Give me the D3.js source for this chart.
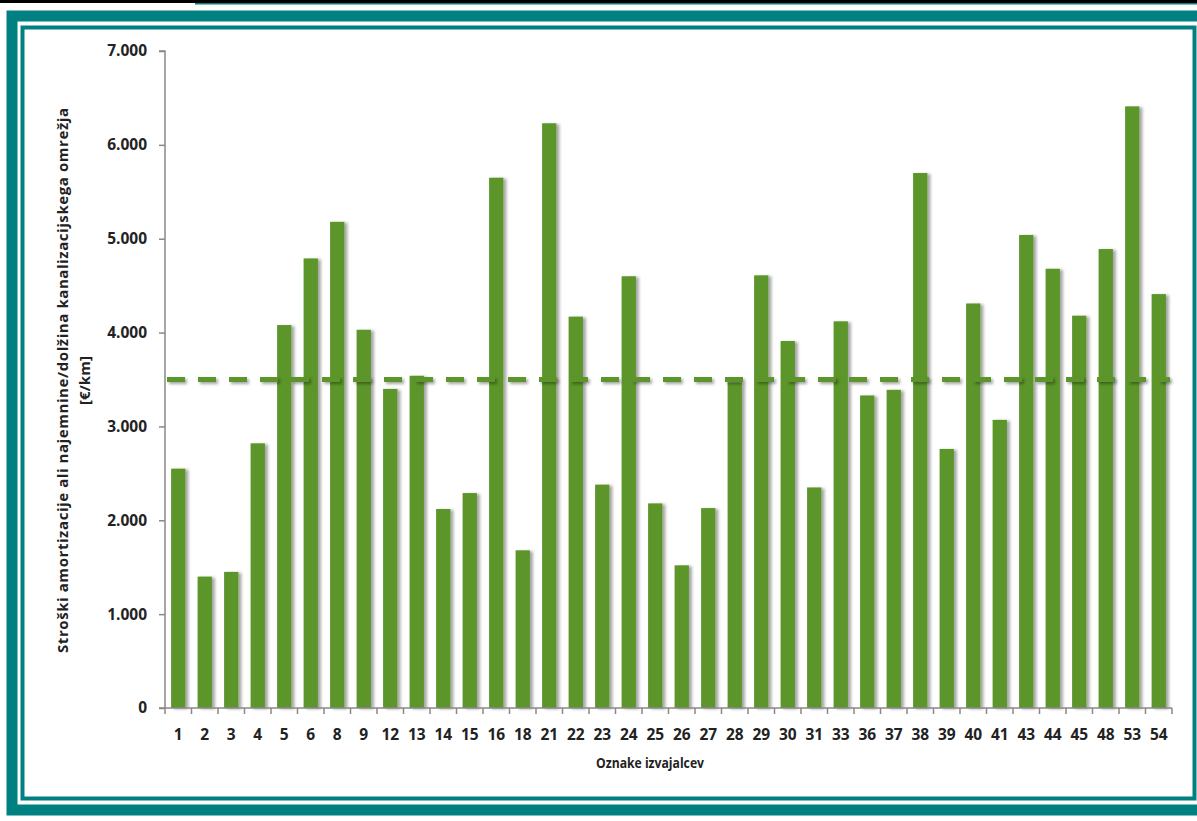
<!DOCTYPE html>
<html>
<head>
<meta charset="utf-8">
<script src="https://cdn.jsdelivr.net/npm/d3@7"></script>
<style>
  body { margin: 0; background: #fff; }
  text { font-family: "Open Sans", sans-serif; fill: #222; }
</style>
</head>
<body>
<svg id="chart" width="1197" height="821"></svg>
<script>
// Data
var producers = ["1","2","3","4","5","6","8","9","12","13","14","15","16","18","21","22","23","24","25","26","27","28","29","30","31","33","36","37","38","39","40","41","43","44","45","48","53","54"];
var costs = [2550,1400,1450,2820,4080,4790,5180,4030,3400,3540,2120,2290,5650,1680,6230,4170,2380,4600,2180,1520,2130,3470,4610,3910,2350,4120,3330,3390,5700,2760,4310,3070,5040,4680,4180,4890,6410,4410];
var yTicks = [0,1000,2000,3000,4000,5000,6000,7000];
var average = 3500;

var data = producers.map(function(p, i) { return {label: p, value: costs[i]}; });

var svg = d3.select("#chart");
var teal = "#008080", green = "#5b952b";

// Frame
svg.append("rect").attr("x", 0).attr("y", 0).attr("width", 1197).attr("height", 3).attr("fill", "#000");
svg.append("rect").attr("x", 195).attr("y", 3).attr("width", 1002).attr("height", 1.5).attr("fill", teal);
svg.append("rect").attr("x", 12).attr("y", 16).attr("width", 1195).attr("height", 794)
  .attr("fill", "none").attr("stroke", teal).attr("stroke-width", 11);
svg.append("rect").attr("x", 22.5).attr("y", 27.5).attr("width", 1172).attr("height", 771)
  .attr("fill", "#fff").attr("stroke", teal).attr("stroke-width", 4);

// Shadow filters for bars and dashed line
var defs = svg.append("defs");
var f = defs.append("filter").attr("id", "shadow").attr("x", "-20%").attr("y", "-5%").attr("width", "160%").attr("height", "115%");
f.append("feDropShadow").attr("dx", 3).attr("dy", 1).attr("stdDeviation", 1.6)
  .attr("flood-color", "#000").attr("flood-opacity", 0.35);
var fl = defs.append("filter").attr("id", "lineShadow").attr("filterUnits", "userSpaceOnUse")
  .attr("x", 0).attr("y", 0).attr("width", 1197).attr("height", 821);
fl.append("feDropShadow").attr("dx", 2).attr("dy", 2).attr("stdDeviation", 1.6)
  .attr("flood-color", "#000").attr("flood-opacity", 0.35);

var plotLeft = 165, plotRight = 1172, plotTop = 51, plotBottom = 708;

var x = d3.scaleBand()
  .domain(producers)
  .range([plotLeft, plotRight])
  .paddingInner(0.46)
  .paddingOuter(0.23);

var y = d3.scaleLinear()
  .domain([0, 7000])
  .range([plotBottom, plotTop]);

// Bars
svg.append("g").selectAll("rect")
  .data(data)
  .enter()
  .append("rect")
    .attr("x", function(d) { return x(d.label); })
    .attr("y", function(d) { return y(d.value); })
    .attr("width", x.bandwidth())
    .attr("height", function(d) { return y(0) - y(d.value); })
    .attr("fill", green)
    .attr("filter", "url(#shadow)");

// Average dashed line
svg.append("line")
  .attr("x1", plotLeft + 2).attr("x2", plotRight - 2)
  .attr("y1", y(average)).attr("y2", y(average))
  .attr("stroke", green).attr("stroke-width", 5)
  .attr("stroke-dasharray", "18,13")
  .attr("filter", "url(#lineShadow)");

// Y axis
var yAxis = svg.append("g")
  .attr("transform", "translate(" + plotLeft + ",0)")
  .call(d3.axisLeft(y)
    .tickValues(yTicks)
    .tickSize(6)
    .tickPadding(12)
    .tickFormat(function(v) { return v === 0 ? "0" : d3.format(",")(v).replace(",", "."); }));
yAxis.select(".domain").attr("stroke", "#888").attr("stroke-width", 1.5).attr("d", "M-6," + plotTop + "H0V" + plotBottom);
yAxis.selectAll(".tick line").attr("stroke", "#888").attr("stroke-width", 1.5);
yAxis.selectAll("text").style("font-size", "15.5px").style("font-weight", 700).attr("fill", "#222");

// X axis with ticks between categories
var xAxis = svg.append("g")
  .attr("transform", "translate(0," + plotBottom + ")");
xAxis.append("line").attr("x1", plotLeft - 6).attr("x2", plotRight).attr("y1", 0).attr("y2", 0)
  .attr("stroke", "#888").attr("stroke-width", 1.5);
var boundaries = d3.range(producers.length + 1).map(function(i) { return plotLeft + i * (plotRight - plotLeft) / producers.length; });
xAxis.selectAll(".bt").data(boundaries).enter().append("line")
  .attr("x1", function(d) { return d; }).attr("x2", function(d) { return d; })
  .attr("y1", 0).attr("y2", 6).attr("stroke", "#888").attr("stroke-width", 1.5);
xAxis.selectAll(".lbl").data(producers).enter().append("text")
  .attr("x", function(d) { return x(d) + x.bandwidth() / 2; })
  .attr("y", 32)
  .attr("text-anchor", "middle")
  .style("font-size", "15.5px").style("font-weight", 700)
  .text(function(d) { return d; });

// Axis titles
svg.append("text")
  .attr("x", 650).attr("y", 768)
  .attr("text-anchor", "middle")
  .attr("textLength", 108).attr("lengthAdjust", "spacingAndGlyphs")
  .style("font-size", "15px").style("font-weight", 700)
  .text("Oznake izvajalcev");

var yt = svg.append("text")
  .attr("transform", "translate(68," + ((plotTop + plotBottom) / 2 + 1) + ") rotate(-90)")
  .attr("text-anchor", "middle")
  .style("font-size", "15px").style("font-weight", 700);
yt.append("tspan").attr("x", 0).attr("dy", 0)
  .attr("textLength", 545).attr("lengthAdjust", "spacing")
  .text("Stroški amortizacije ali najemnine/dolžina kanalizacijskega omrežja");
yt.append("tspan").attr("x", 0).attr("dy", 22).text("[€/km]");
</script>
</body>
</html>
